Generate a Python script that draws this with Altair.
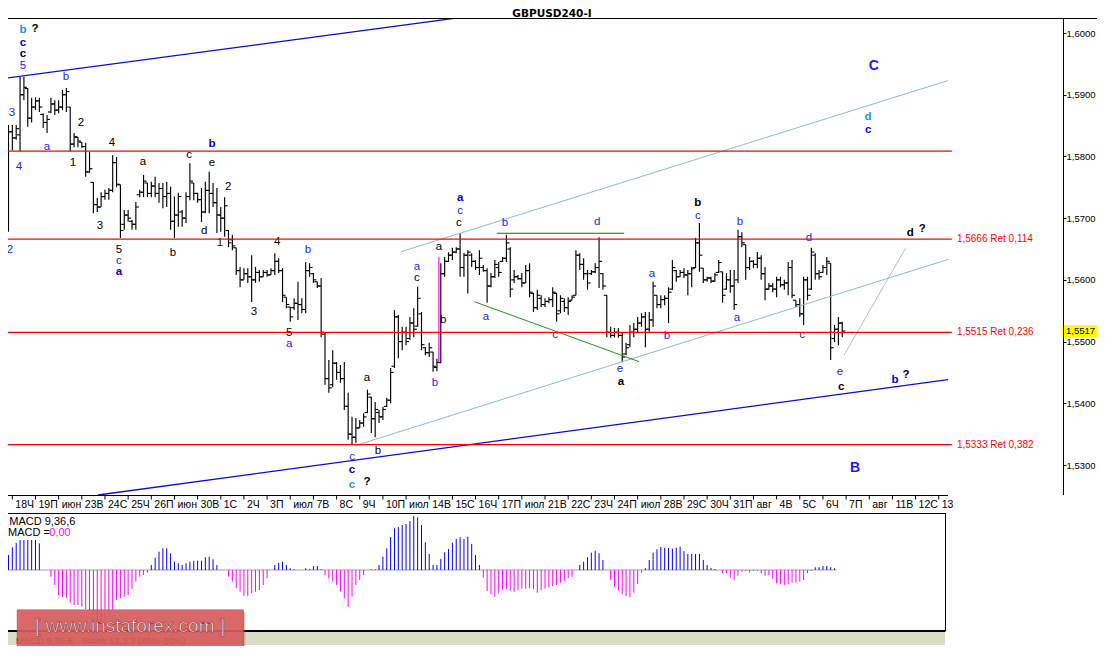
import altair as alt
import pandas as pd

W, H = 1055, 612

# ---------------- data (prices in pips above 1.5000) ----------------
high = [749,851,851,851,929,929,911,895,896,895, 870,867,895,891,891,908,911,880,838,831,
        823,822,807,758,733,742,746,749,802,799, 754,713,713,697,726,746,770,757,759,767,
        757,757,759,751,735,741,713,742,789,757, 741,749,759,775,757,749,718,734,681,673,
        652,621,619,619,640,621,616,616,616,619, 643,635,619,572,556,570,597,570,629,627,
        611,597,603,514,470,486,467,462,467,417, 378,376,373,384,422,410,402,389,394,409,
        457,551,543,524,524,540,554,589,548,491, 498,483,472,627,637,645,652,653,676,644,
        648,643,632,648,624,619,611,632,629,637, 673,653,616,608,611,624,627,579,584,575,
        570,572,588,579,575,570,572,575,648,643, 635,616,616,627,669,611,575,524,522,522,
        514,498,527,530,540,546,548,548,597,575, 575,575,588,632,616,616,619,616,621,668,
        692,619,605,605,611,632,613,611,616,616, 681,677,657,637,632,645,640,621,595,595,
        605,605,600,629,632,567,570,605,605,652, 643,616,624,637,627,527,540,532]
low = [694,678,810,827,808,891,848,855,875,872, 846,838,870,867,870,875,872,808,815,815,
       814,767,773,708,710,718,730,730,742,750, 668,681,694,681,681,734,734,734,734,734,
       725,716,718,681,668,686,686,692,729,729, 725,694,708,708,718,676,678,670,653,648,
       608,588,600,595,564,595,597,605,605,608, 608,611,564,554,532,551,535,546,546,605,
       595,587,507,430,417,426,438,433,389,341, 333,336,360,362,384,352,345,368,373,394,
       400,457,473,486,494,503,507,524,486,478, 475,451,452,465,605,629,632,643,605,605,
       578,621,616,608,613,563,588,603,605,629, 629,572,595,600,588,595,572,548,551,556,
       556,562,556,532,546,548,543,567,575,616, 600,584,608,611,587,584,507,506,507,506,
       467,478,491,507,514,524,491,516,524,554, 554,559,530,584,597,605,603,575,588,619,
       613,595,597,595,597,611,563,584,579,551, 595,653,600,616,619,619,600,567,584,580,
       572,588,584,575,570,556,540,527,567,584, 600,600,611,608,470,499,494,507]
opn = [740,700,840,830,835,900,910,862,880,890, 868,855,872,885,875,880,900,880,820,831,
       823,816,775,758,722,718,735,740,745,790, 754,690,705,695,690,738,742,757,740,752,
       740,748,735,740,695,705,710,700,735,757, 740,730,710,745,740,725,705,700,680,665,
       652,615,600,610,605,600,612,605,612,608, 615,630,615,572,556,555,562,560,552,615,
       610,597,590,512,440,430,465,450,440,395, 350,345,360,368,385,410,375,385,378,395,
       405,460,540,500,515,505,530,525,545,490, 482,483,458,466,610,630,640,645,650,620,
       640,640,630,620,620,615,590,605,620,630, 635,650,600,605,602,595,615,578,555,570,
       560,565,568,578,550,565,555,567,575,640, 625,610,610,613,620,610,575,515,510,515,
       510,480,495,515,520,530,540,520,535,575, 560,568,570,585,615,605,612,608,610,620,
       660,619,600,603,598,612,613,585,600,590, 600,670,657,620,630,625,635,610,585,590,
       585,600,592,595,620,567,560,545,600,585, 640,610,612,620,627,505,520,530]
close = [700,840,830,845,900,912,862,880,890,880, 855,860,885,875,880,900,905,820,832,825,
         816,775,780,722,718,735,740,745,790,755, 680,705,700,690,718,742,760,740,752,740,
         748,735,740,695,705,735,700,735,760,740, 730,710,745,740,725,705,700,720,660,655,
         615,600,610,605,600,612,605,612,608,615, 630,615,575,560,540,562,560,552,615,620,
         600,590,515,440,425,465,450,440,395,350, 345,360,368,378,415,375,390,378,390,405,
         450,540,500,515,500,530,520,570,495,482, 490,460,466,610,630,640,645,650,620,640,
         645,630,620,635,615,590,605,625,612,635, 660,585,605,602,595,615,580,555,575,560,
         565,568,580,545,570,555,565,572,640,625, 610,595,613,620,630,590,515,510,515,510,
         475,490,515,520,530,540,520,535,590,560, 568,570,580,620,605,612,608,610,618,660,
         640,600,603,598,608,628,575,600,590,560, 670,660,620,630,625,635,610,585,590,585,
         600,592,595,620,575,560,545,600,575,645, 610,605,620,630,490,520,530,517]

# MACD histogram (units of 0.0001)
macd_hist = [6, 15, 22.7, 27, 30, 30, 30, 30, 30, 26.7, 0, 0,
             -6.7, -15, -25, -27, -28, -33, -35, -35, -36.7, -39, -40, -43, -51.7, -53, -50, -43,
             -40, -30, -28, -26.7, -25, -19, -11.7, -6.7, -5, -2.7,
             5, 12.3, 18.3, 21.7, 21.7, 16.7, 8.3, 6.7, 5, 6.7, 8.3, 9.3, 9.3, 9.3, 12.7, 13.3, 10.7, 5,
             0, 0, -6.7, -11.7, -18.3, -21.7, -26, -26, -23.3, -21.7, -20, -15, -8.3, 0,
             5, 7.3, 8.3, 5, 1.7, 0.7, 0, 0, 1.7, 0.7, 4, 4, 0.7,
             -5, -8.3, -11.7, -15, -21.7, -28.3, -36.7, -26.7, -15, -10, -5, 0,
             0.7, 0.7, 5, 13.3, 21.7, 33, 41.7,
             43, 45, 46, 49, 54, 52.7, 45, 27.7, 16, 5, 5, 11, 17.7, 21, 27.3, 31, 32.7, 31, 33.3, 26,
             15, 5, -7.7, -21, -24.3, -26.7, -23.3, -20, -19.3, -20.7, -21.7, -20, -18.7, -18.7, -18.3,
             -19.3, -22.7, -20, -18.7, -17.3, -16, -15, -12.7, -10.7, -8.3, -6.7, 0, 5, 8.3, 12.7,
             17.3, 19.3, 16.7, 10, 0, -10, -16.7, -20.7, -24.3, -26, -27.3, -22.7, -14, -2.7, 1.7, 10,
             17.3, 20.7, 23, 22.3, 22, 21.3, 22.3, 23.3, 19, 16, 16, 16, 16, 10, 5, 2, 1, 0,
             -3.3, -3.3, -7.7, -10, -5.7, -1.7, -1, -2.3, -1, -0.7, -3.3, -5.7, -5, -9, -13.3, -14.3,
             -15, -14, -12.7, -12.7, -11.7, -10, -3.3, -1, 2.7, 2.7, 4, 4, 2.7, 1.7]

day_labels = ["18Ч","19П","июн","23В","24С","25Ч","26П","июн","30В","1С","2Ч","3П","июл","7В",
              "8С","9Ч","10П","июл","14В","15С","16Ч","17П","июл","21В","22С","23Ч","24П","июл",
              "28В","29С","30Ч","31П","авг","4В","5С","6Ч","7П","авг","11В","12С","13"]
day_bar = [3,9,15,21,27,33,39,45,51,57,63,69,75,81,87,93,99,105,111,117,123,129,135,141,147,
           153,159,165,171,177,183,189,195,201,207,213,219,225,231,237,243]

price_ticks = [1.53, 1.54, 1.55, 1.56, 1.57, 1.58, 1.59, 1.60]

# wave labels: bar position, pips, text, style
wave_i = [5.76, 8.87, 5.76, 5.76, 5.76, 2.91, 4.73, 2.4, 11.98, 16.9, 20.8, 18.7, 28.8, 25.7,
          36.85, 48.8, 54.7, 54.7, 58.9, 52.7, 44.6, 56.8, 30.6, 30.6, 30.6, 71.6, 79.6, 65.6,
          74.7, 74.7, 94.9, 97.7, 91.0, 91.0, 91.0, 94.9, 107.8, 107.8, 114.6, 112.5, 113.5,
          119.0, 119.0, 118.7, 130.6, 154.5, 125.7, 143.6, 160.4, 160.7, 180.6, 180.6, 168.7,
          172.6, 191.5, 190.7, 209.4, 207.6, 217.4, 217.7, 235.6, 238.7, 231.7, 234.5, 226.2,
          224.7, 224.7, 221.3]
wave_p = [1005, 1006, 984, 966, 947, 870, 783, 648, 815, 929, 854, 789, 822, 687,
          791, 802, 820, 789, 750, 679, 643, 660, 648, 631, 613, 661, 648, 548,
          514, 496, 441, 323, 313, 292, 268, 272, 621, 603, 535, 433, 653,
          733, 712, 692, 692, 694, 540, 511, 456, 435, 725, 704, 610,
          509, 694, 538, 668, 511, 451, 426, 676, 682, 438, 446, 947,
          864, 843, 295]
wave_t = ["b","?","c","c","5","3","4","2","a","b","2","1","4","3",
          "a","c","b","e","2","d","b","1","5","c","a","4","b","3",
          "5","a","a","b","c","c","c","?","a","c","b","b","a",
          "a","c","c","b","d","a","c","e","a","b","c","a",
          "b","b","a","d","c","e","c","d","?","b","?","C",
          "d","c","B"]
wave_s = ["T","K","B","K","b","b","b","b","b","b","k","k","k","k",
          "k","k","B","k","k","k","k","k","k","b","B","k","b","k",
          "k","b","k","k","b","B","T","K","b","k","k","b","k",
          "B","b","k","b","b","b","b","b","K","K","b","b",
          "b","b","b","b","b","b","K","K","K","B","K","L",
          "T","B","L"]

# sloped lines drawn on the chart: name, bar position, pips
line_name = ["bu","bu","bl","bl","lu","lu","ll","ll","gh","gh","gd","gd","mg","mg","th","th"]
line_i = [-0.19, 130, 25.2, 245.4, 103.7, 245.3, 91.8, 245.5, 128.5, 161.5, 122.7, 165.4,
          113.5, 113.5, 218.5, 234.4]
line_p = [925.5, 1034.2, 251.4, 438.4, 645.6, 922.7, 331.3, 633.3, 675.5, 675.5, 564.6, 467.4,
          636.6, 465.8, 478.3, 651.2]
line_style = {"bu": ("#0a0ae6", 1.3), "bl": ("#0a0ae6", 1.3), "lu": ("#8cbcc8", 1),
              "ll": ("#8cbcc8", 1), "gh": ("#007a00", 1), "gd": ("#1a9a1a", 1),
              "mg": ("#ff00ff", 1.2), "th": ("#c9b2cf", 1)}

# horizontal levels (pips) and where they end (bar position)
level_p = [808.5, 666, 515, 333]
level_end = 246.4
fib_p = [666, 515, 333]
fib_text = ["1,5666 Ret 0,114", "1,5515 Ret 0,236", "1,5333 Ret 0,382"]
last_price_text = "1,5517"


def px(p):
    return 1.5 + p / 10000.0


bars_df = pd.DataFrame({"i": list(range(1, 1 + len(high))),
                        "h": [px(v) for v in high], "l": [px(v) for v in low],
                        "o": [px(v) for v in opn], "c": [px(v) for v in close]})
macd_df = pd.DataFrame({"i": list(range(1, 1 + len(macd_hist))), "v": macd_hist})
macd_df["z"] = 0.0
macd_df["col"] = ["#0000ff" if v >= 0 else "#ff00ff" for v in macd_hist]
days_df = pd.DataFrame({"i": day_bar, "t": day_labels})
wave_df = pd.DataFrame({"i": wave_i, "p": [px(v) for v in wave_p], "t": wave_t, "s": wave_s})
lines_df = pd.DataFrame({"name": line_name, "i": line_i, "p": [px(v) for v in line_p]})
lines_df["o"] = [k % 2 for k in range(len(lines_df))]
level_df = pd.DataFrame({"p": [px(v) for v in level_p], "a": [-1.0] * 4, "b": [level_end] * 4})
fib_df = pd.DataFrame({"i": [247.7] * 3, "p": [px(v) for v in fib_p], "t": fib_text})
last_df = pd.DataFrame({"p": [px(close[-1])], "hi": [px(close[-1] + 10)], "lo": [px(close[-1] - 10)],
                        "t": [last_price_text]})
zero_df = pd.DataFrame({"a": [1], "b": [216.5], "z": [0.0]})
one = pd.DataFrame({"k": [0]})

# ---------------- scales ----------------
xs = alt.Scale(domain=[1.878, 275.19], nice=False, zero=False)
ys = alt.Scale(domain=[1.503264, 1.602431], nice=False, zero=False)
ms = alt.Scale(domain=[-60, 552], nice=False, zero=False)
price_axis = alt.Axis(orient="right", values=price_ticks,
                      labelExpr="replace(format(datum.value, '.4f'), '.', ',')",
                      domain=False, ticks=True, tickSize=3, tickColor="black", tickWidth=1,
                      labelFont="Liberation Sans", labelFontSize=9.5, labelColor="black",
                      labelPadding=0, grid=False, title=None)


def X(f):
    return alt.X(f, type="quantitative", scale=xs, axis=None)


def Y(f):
    return alt.Y(f, type="quantitative", scale=ys, axis=price_axis)


FONT = "Liberation Sans"

# ---------------- price panel ----------------
bars_base = alt.Chart(bars_df)
hl = bars_base.mark_rule(color="black", strokeWidth=1.15, clip=True).encode(
    x=X("i"), y=Y("l"), y2=alt.Y2("h"))
op = bars_base.mark_tick(orient="horizontal", color="black", size=3, thickness=1.1,
                         xOffset=-1.5, opacity=1, clip=True).encode(x=X("i"), y=Y("o"))
cl = bars_base.mark_tick(orient="horizontal", color="black", size=3, thickness=1.1,
                         xOffset=1.5, opacity=1, clip=True).encode(x=X("i"), y=Y("c"))

levels = alt.Chart(level_df).mark_rule(stroke="#ff0000", color="#ff0000", strokeWidth=1.2,
                                       opacity=1).encode(
    x=X("a"), x2=alt.X2("b"), y=Y("p"))

line_layers = []
for nm, (col, wd) in line_style.items():
    line_layers.append(
        alt.Chart(lines_df).transform_filter(alt.datum.name == nm).mark_line(
            color=col, strokeWidth=wd, clip=True).encode(x=X("i"), y=Y("p"), order="o:Q"))

styles = {"b": ("#1c1cff", "normal", 11.5), "k": ("#000000", "normal", 11.5),
          "B": ("#0000dd", "bold", 11.5), "K": ("#000000", "bold", 11.5),
          "T": ("#1e96d2", "bold", 11.5), "L": ("#1a1aff", "bold", 14)}
wave_layers = []
for st, (col, wt, sz) in styles.items():
    wave_layers.append(
        alt.Chart(wave_df).transform_filter(alt.datum.s == st).mark_text(
            color=col, fontWeight=wt, fontSize=sz, font=FONT, align="center", baseline="middle"
        ).encode(x=X("i"), y=Y("p"), text="t:N"))

fib_lbl = alt.Chart(fib_df).mark_text(color="#ff0000", fontSize=10, font=FONT, align="left",
                                      baseline="middle").encode(x=X("i"), y=Y("p"), text="t:N")

last_box = alt.Chart(last_df).mark_rect(color="#ffff00").encode(
    x=alt.value(1054), x2=alt.value(1090), y=Y("hi"), y2=alt.Y2("lo"))
last_txt = alt.Chart(last_df).mark_text(color="black", fontSize=9.5, font=FONT, align="left",
                                        baseline="middle").encode(
    x=alt.value(1058), y=Y("p"), text="t:N")

day_ticks = alt.Chart(days_df).mark_rule(color="black").encode(
    x=X("i"), y=alt.value(477.5), y2=alt.value(481.5))
day_txt = alt.Chart(days_df).mark_text(color="black", fontSize=10.5, font=FONT, align="left",
                                       baseline="middle", dx=3).encode(
    x=X("i"), y=alt.value(487), text="t:N")

price_group = alt.layer(hl, op, cl, *line_layers, *wave_layers, fib_lbl, last_box,
                        last_txt, day_ticks, day_txt, levels)

# ---------------- MACD panel ----------------
zero_line = alt.Chart(zero_df).mark_rule(color="#a0a0a0").encode(
    x=X("a"), x2=alt.X2("b"), y=alt.Y("z:Q", scale=ms, axis=None))
hist = alt.Chart(macd_df).mark_rule(strokeWidth=1).encode(
    x=X("i"), y=alt.Y("v:Q", scale=ms, axis=None), y2=alt.Y2("z"),
    color=alt.Color("col:N", scale=None))
macd_group = alt.layer(zero_line, hist)


# ---------------- frame decorations ----------------
def hline(y, x1, x2, color="black", width=1):
    return alt.Chart(one).mark_rule(color=color, strokeWidth=width).encode(
        x=alt.value(x1), x2=alt.value(x2), y=alt.value(y))


def vline(x, y1, y2, color="black", width=1):
    return alt.Chart(one).mark_rule(color=color, strokeWidth=width).encode(
        x=alt.value(x), y=alt.value(y1), y2=alt.value(y2))


def label(txt, x, y, size=11, color="black", weight="normal", align="left", font=FONT,
          baseline="middle"):
    return alt.Chart(one).mark_text(text=txt, fontSize=size, color=color, fontWeight=weight,
                                    align=align, baseline=baseline, font=font).encode(
        x=alt.value(x), y=alt.value(y))


deco = [
    hline(0.5, 0, 1089),
    vline(1055.5, 0, 477),
    hline(477.5, 0, 940),
    hline(495.5, 0, 938),
    vline(937.5, 495.5, 613),
    alt.Chart(one).mark_rect(color="#dadcc6").encode(
        x=alt.value(0), x2=alt.value(937), y=alt.value(614), y2=alt.value(627)),
    hline(613, 0, 937.5, width=2),
    label("GBPUSD240-I", 544, -0.8, size=10.5, weight="bold", align="center",
          font="DejaVu Sans", baseline="alphabetic"),
    label("MACD 9,36,6", 1.3, 503.7),
    label("MACD =", 0, 515.3),
    label("0,00", 41.3, 515.3, color="#ff00ff"),
    label("MACD 9,36,6", 8, 623, size=9.5),
    label("Stoch 13,3,3 (80%-20%)", 74, 623, size=9.5),
    # watermark
    alt.Chart(one).mark_rect(color="#777777", opacity=0.35).encode(
        x=alt.value(11.5), x2=alt.value(237.5), y=alt.value(594), y2=alt.value(630)),
    alt.Chart(one).mark_rect(color="#dc5a5a", opacity=0.88, stroke="#b94444", strokeWidth=1).encode(
        x=alt.value(9.3), x2=alt.value(235.3), y=alt.value(592), y2=alt.value(628.5)),
    alt.Chart(one).mark_text(text="[ www.instaforex.com ]", fontSize=19, color="#ffffff",
                             stroke="#8a2a2a", strokeWidth=0.6, align="center",
                             baseline="middle", font=FONT).encode(
        x=alt.value(122), y=alt.value(608)),
]

chart = alt.layer(price_group, macd_group, *deco).resolve_scale(y="independent").properties(
    width=W, height=H,
    padding={"left": 0, "top": 10, "right": 34, "bottom": 16},
    autosize=alt.AutoSizeParams(type="none"),
    background="white",
).configure_view(stroke=None)

chart.save("out.html", embed_options={"renderer": "svg", "actions": False})
